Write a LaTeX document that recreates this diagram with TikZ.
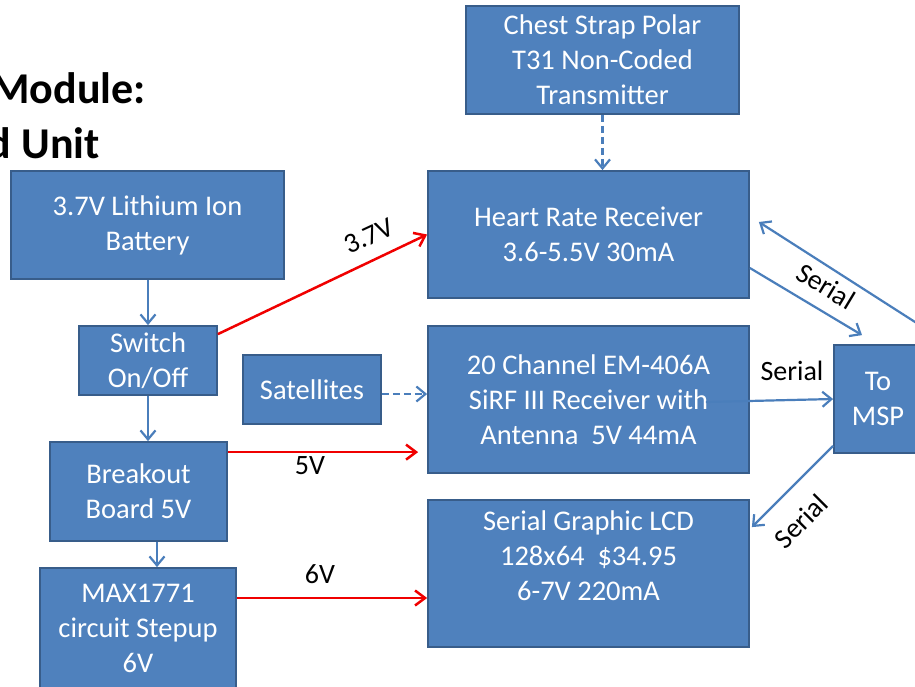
\documentclass[tikz,border=0pt]{standalone}
\usepackage{fontspec}
\setmainfont{Carlito}
\usetikzlibrary{arrows.meta}
\definecolor{boxfill}{HTML}{4F81BD}
\definecolor{boxline}{HTML}{385D8A}
\definecolor{arrblue}{HTML}{4A7EBB}
\definecolor{arrred}{HTML}{F00000}
\tikzset{
  blk/.style={draw=boxline, fill=boxfill, line width=1.8pt, text=white, align=center,
    inner sep=0pt, font=\fontsize{28.5}{35}\selectfont},
  bluearr/.style={draw=arrblue, line width=2.2pt, -{Straight Barb[length=9pt,width=15pt]}},
  redarr/.style={draw=arrred, line width=2.5pt, -{Straight Barb[length=10pt,width=15pt]}},
  lbl/.style={font=\fontsize{28}{32}\selectfont, text=black, inner sep=0pt},
  ttl/.style={font=\fontsize{44}{55}\selectfont\bfseries, text=black, inner sep=0pt}
}
\begin{document}
\begin{tikzpicture}[x=1pt,y=-1pt]
\useasboundingbox (0,0) rectangle (915,686);
\clip (0,0) rectangle (915,686);
\fill[white] (0,0) rectangle (915,686);

% title (cropped)
\node[ttl, anchor=base east] (t1) at (146,103) {Module:};
\node[ttl, anchor=base east] (t2) at (100,158) {d Unit};

% boxes
\node[blk, minimum width=273, minimum height=108] (chest) at (602.5,60) {Chest Strap Polar\\T31 Non-Coded\\Transmitter};
\node[blk, minimum width=321, minimum height=127] (hr) at (588.5,234.5) {Heart Rate Receiver\\3.6-5.5V 30mA};
\node[blk, minimum width=321, minimum height=147] (gps) at (588.5,399.5) {20 Channel EM-406A\\SiRF III Receiver with\\Antenna\ \ 5V 44mA};
\node[blk, minimum width=321, minimum height=147] (lcd) at (588.5,573.5) {Serial Graphic LCD\\128x64\ \ \$34.95\\6-7V 220mA\\\mbox{}};
\node[blk, minimum width=88, minimum height=108] (msp) at (878,399) {To\\MSP};
\node[blk, minimum width=273, minimum height=108] (batt) at (147.5,225) {3.7V Lithium Ion\\Battery};
\node[blk, minimum width=138, minimum height=69] (sw) at (148,360.5) {Switch\\On/Off};
\node[blk, minimum width=138, minimum height=69] (sat) at (312,389.5) {Satellites};
\node[blk, minimum width=177, minimum height=99] (brk) at (138.5,491.5) {Breakout\\Board 5V};
\node[blk, minimum width=196, minimum height=120] (max) at (138,628) {MAX1771\\circuit Stepup\\6V};

% blue connectors
\draw[bluearr] ([xshift=0.5]batt.south) coordinate (bt) -- (bt |- sw.north);
\draw[bluearr] (sw.south) -- (sw.south |- brk.north);
\draw[bluearr] ([xshift=18.5]brk.south) coordinate (bk) -- (bk |- max.north);
\draw[bluearr, dash pattern=on 7pt off 4pt] (chest.south) -- (chest.south |- hr.north);
\draw[bluearr, dash pattern=on 7pt off 4pt] ([yshift=-4.5]sat.east) coordinate (st) -- (st -| gps.west);

% red power connectors
\draw[redarr] ([yshift=-9]sw.north east) -- (hr.west);
\node[lbl, rotate=25] (l37) at (369,236) {3.7V};
\draw[redarr, shorten >=9pt] ([yshift=-11]brk.north east) coordinate (b5) -- (b5 -| gps.west);
\node[lbl] (l5) at (310,466) {5V};
\draw[redarr] ([yshift=30]max.east) coordinate (m6) -- (m6 -| lcd.west);
\node[lbl] (l6) at (320,574) {6V};

% serial links
\coordinate (far) at (940,338);
\draw[bluearr] ([yshift=-33.5]hr.east) -- ([xshift=-16,yshift=9]msp.north);
\draw[bluearr] (far) -- ([xshift=9,yshift=12.5]hr.east);
\node[lbl, rotate=-31] (s1) at (826,286) {Serial};
\draw[bluearr] ([xshift=-44,yshift=-2.5]gps.east) -- (msp.west);
\node[lbl] (s2) at (792,371) {Serial};
\draw[bluearr] ([yshift=8]msp.south west) -- ([xshift=2,yshift=-28]lcd.north east);
\node[lbl, rotate=45] (s3) at (801,521) {Serial};
\end{tikzpicture}
\end{document}
